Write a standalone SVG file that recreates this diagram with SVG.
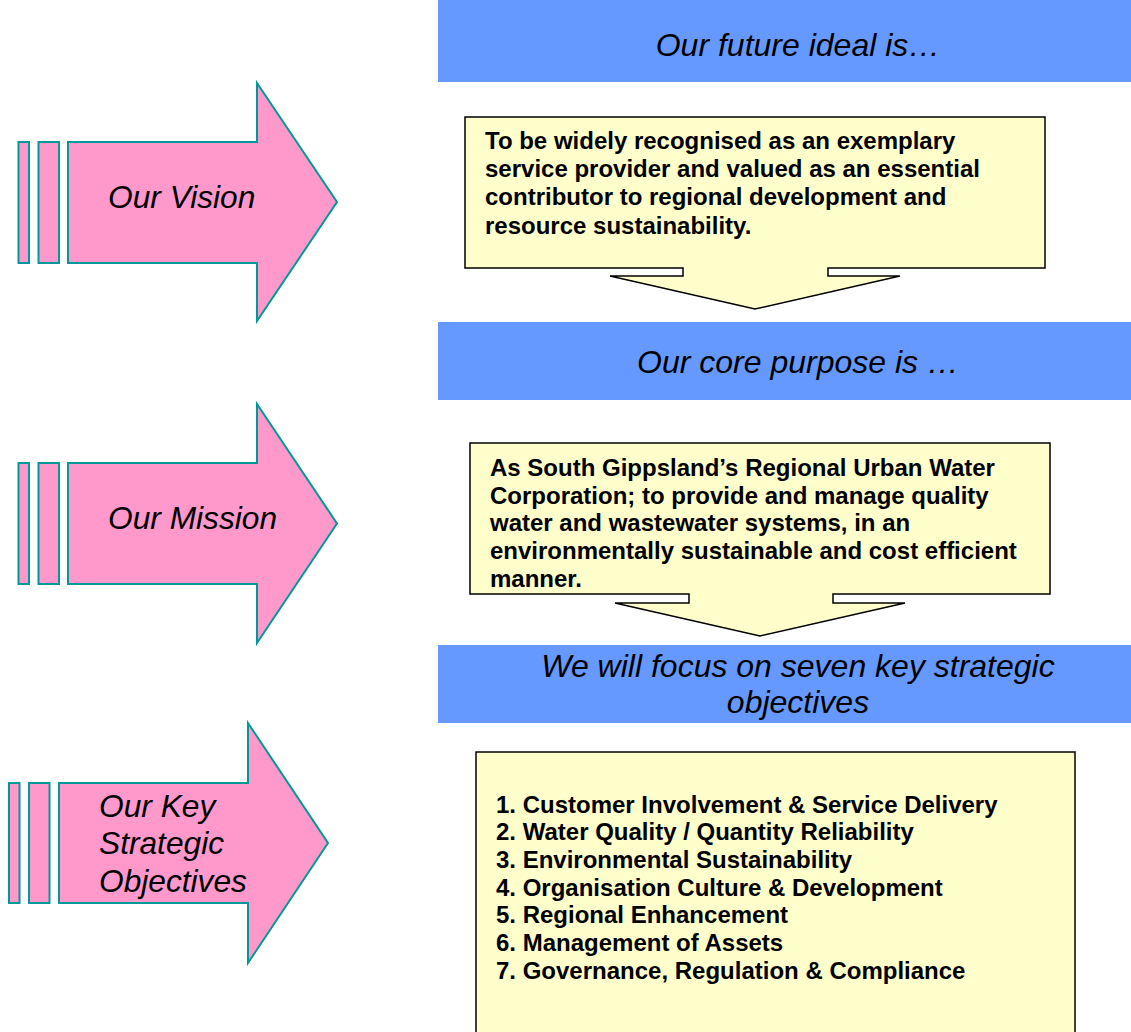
<svg xmlns="http://www.w3.org/2000/svg" width="1131" height="1032" viewBox="0 0 1131 1032">
<style>
.pink{fill:#FF99CC;stroke:#009999;stroke-width:2}
.band{fill:#6699FF}
.note{fill:#FFFFCC;stroke:#000;stroke-width:1.5}
.lbl{font-family:"Liberation Sans",Arial,sans-serif;font-style:italic;font-size:31.7px;fill:#000}
.head{font-family:"Liberation Sans",Arial,sans-serif;font-style:italic;font-size:32px;fill:#000;text-anchor:middle}
.body{font-family:"Liberation Sans",Arial,sans-serif;font-weight:bold;font-size:24px;fill:#000}
</style>
<rect width="1131" height="1032" fill="#fff"/>
<g id="vision-arrow">
<rect class="pink" x="18.5" y="142" width="10.5" height="121"/>
<rect class="pink" x="38.5" y="142" width="20.5" height="121"/>
<path class="pink" d="M68,142 L257,142 L257,83 L337,202 L257,321 L257,263 L68,263 Z"/>
<text class="lbl" x="108" y="208">Our Vision</text>
</g>
<g id="mission-arrow">
<rect class="pink" x="18.5" y="463" width="10.5" height="121"/>
<rect class="pink" x="38.5" y="463" width="20.5" height="121"/>
<path class="pink" d="M68,463 L257,463 L257,404 L337,523.5 L257,643 L257,584 L68,584 Z"/>
<text class="lbl" x="108" y="529">Our Mission</text>
</g>
<g id="objectives-arrow">
<rect class="pink" x="9" y="783" width="10.5" height="120"/>
<rect class="pink" x="29" y="783" width="20.5" height="120"/>
<path class="pink" d="M59,783 L248,783 L248,723 L328,843 L248,963 L248,903 L59,903 Z"/>
<text class="lbl" x="99" y="817">Our Key</text>
<text class="lbl" x="99" y="854">Strategic</text>
<text class="lbl" x="99" y="892">Objectives</text>
</g>
<g id="band-future">
<rect class="band" x="438" y="0" width="693" height="82"/>
<text class="head" x="798" y="56">Our future ideal is…</text>
</g>
<g id="vision-box">
<path class="note" d="M683,268 L465,268 L465,117 L1045,117 L1045,268 L828,268 L828,276 L900,276 L755,309 L610,276 L683,276 Z"/>
<text class="body" x="485" y="149">To be widely recognised as an exemplary</text>
<text class="body" x="485" y="177">service provider and valued as an essential</text>
<text class="body" x="485" y="205">contributor to regional development and</text>
<text class="body" x="485" y="234">resource sustainability.</text>
</g>
<g id="band-purpose">
<rect class="band" x="438" y="322" width="693" height="78"/>
<text class="head" x="798" y="373">Our core purpose is …</text>
</g>
<g id="mission-box">
<path class="note" d="M689,594 L470,594 L470,443 L1050,443 L1050,594 L833,594 L833,603 L905,603 L760,636 L615,603 L689,603 Z"/>
<text class="body" x="490" y="476">As South Gippsland’s Regional Urban Water</text>
<text class="body" x="490" y="504">Corporation; to provide and manage quality</text>
<text class="body" x="490" y="531">water and wastewater systems, in an</text>
<text class="body" x="490" y="559">environmentally sustainable and cost efficient</text>
<text class="body" x="490" y="587">manner.</text>
</g>
<g id="band-focus">
<rect class="band" x="438" y="645" width="693" height="78"/>
<text class="head" x="798" y="677">We will focus on seven key strategic</text>
<text class="head" x="798" y="713">objectives</text>
</g>
<g id="objectives-box">
<rect class="note" x="476" y="752" width="599" height="285"/>
<text class="body" x="496" y="813">1. Customer Involvement &amp; Service Delivery</text>
<text class="body" x="496" y="840">2. Water Quality / Quantity Reliability</text>
<text class="body" x="496" y="868">3. Environmental Sustainability</text>
<text class="body" x="496" y="896">4. Organisation Culture &amp; Development</text>
<text class="body" x="496" y="923">5. Regional Enhancement</text>
<text class="body" x="496" y="951">6. Management of Assets</text>
<text class="body" x="496" y="979">7. Governance, Regulation &amp; Compliance</text>
</g>
<g id="connectors"></g>
</svg>
